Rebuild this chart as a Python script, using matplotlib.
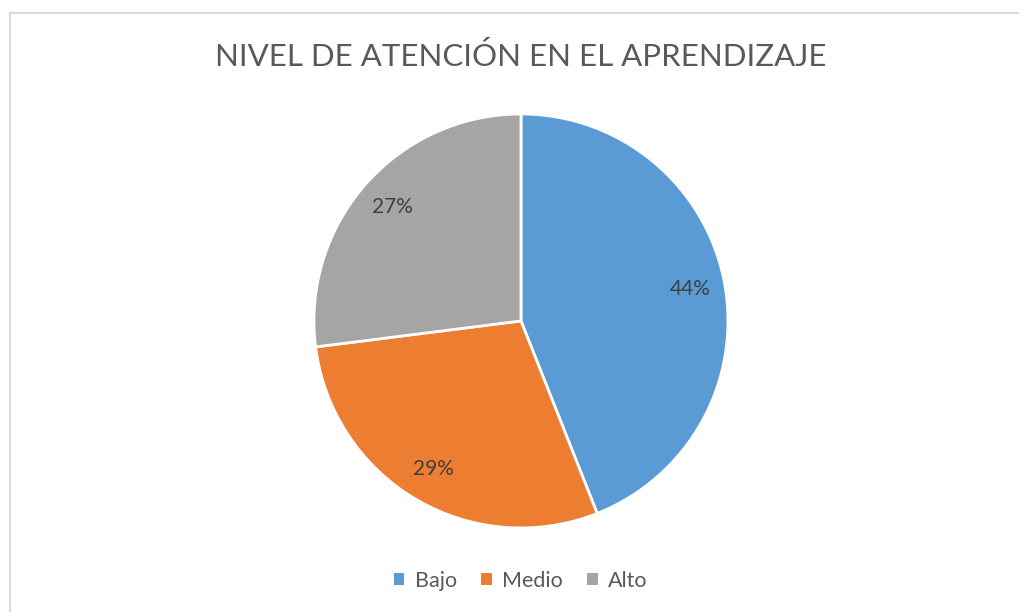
import matplotlib.pyplot as plt
from matplotlib.lines import Line2D
from matplotlib.patches import Patch

categorias = ['Bajo', 'Medio', 'Alto']
porcentajes = [44, 29, 27]
colores = ['#5B9BD5', '#ED7D31', '#A5A5A5']

plt.rcParams['font.family'] = ['Lato', 'DejaVu Sans']

fig = plt.figure(figsize=(10.19, 6.12), dpi=100)

# Marco del gráfico (recortado a la derecha y abajo como en el original)
fig.add_artist(Line2D([10/1019, 1], [1 - 13/612, 1 - 13/612], color='#D9D9D9', lw=1.5))
fig.add_artist(Line2D([10/1019, 10/1019], [0, 1 - 13/612], color='#D9D9D9', lw=1.5))

ax = fig.add_axes([0.3081, 0.1373, 0.4063, 0.6765])
ax.pie(porcentajes, colors=colores, startangle=90, counterclock=False,
       autopct='%1.0f%%', pctdistance=0.83,
       wedgeprops=dict(edgecolor='white', linewidth=2),
       textprops=dict(color='#404040', fontsize=15))
ax.set_xlim(-1, 1)
ax.set_ylim(-1, 1)
ax.set_aspect('equal')

fig.text(0.511, 1 - 57/612, 'NIVEL DE ATENCIÓN EN EL APRENDIZAJE',
         ha='center', va='center', fontsize=22.5, color='#595959')

handles = [Patch(facecolor=c, edgecolor='none') for c in colores]
fig.legend(handles, categorias, loc='center', bbox_to_anchor=(0.511, 1 - 581/612),
           ncol=3, frameon=False, fontsize=15.5, labelcolor='#595959',
           handlelength=0.5, handleheight=0.5, handletextpad=0.5, columnspacing=1.1)

fig.savefig('out.png', dpi=100)
